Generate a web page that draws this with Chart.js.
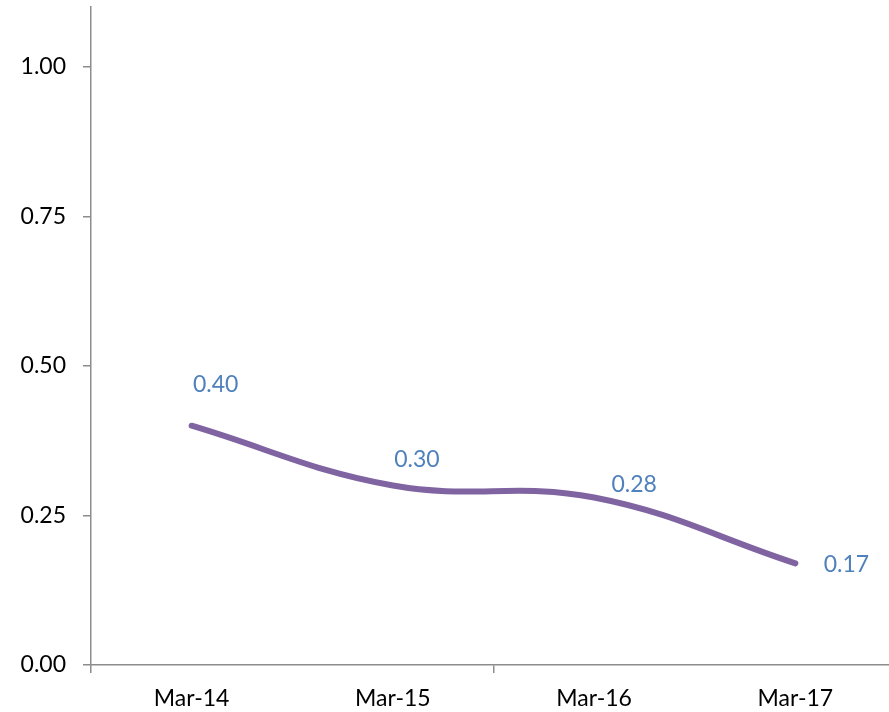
<!DOCTYPE html>
<html>
<head>
<meta charset="utf-8">
<script src="https://cdn.jsdelivr.net/npm/chart.js@4/dist/chart.umd.min.js"></script>
<style>
  html, body { margin: 0; padding: 0; background: #fff; overflow: hidden; }
  #wrap { width: 900px; height: 712px; }
</style>
</head>
<body>
<div id="wrap"><canvas id="c" width="900" height="712"></canvas></div>
<script>
// Fiscal year-end periods and the ratio recorded at each
const periods = ['Mar-14', 'Mar-15', 'Mar-16', 'Mar-17'];
const ratios = [0.40, 0.30, 0.28, 0.17];
const yTickValues = [0, 0.25, 0.5, 0.75, 1.0];

const AXIS_GREY = '#8c8c8c';
const FONT = 'Lato, "Open Sans", sans-serif';

// Draws each point's value beside it, shifted by a per-point offset
const valueLabels = {
  id: 'valueLabels',
  afterDatasetsDraw(chart, args, opts) {
    const ctx = chart.ctx;
    const meta = chart.getDatasetMeta(0);
    const data = chart.data.datasets[0].data;
    ctx.save();
    ctx.font = opts.font;
    ctx.fillStyle = opts.color;
    ctx.textAlign = 'center';
    ctx.textBaseline = 'middle';
    meta.data.forEach((pt, i) => {
      const off = opts.offsets[i] || [0, 0];
      ctx.fillText(data[i].toFixed(2), pt.x + off[0], pt.y + off[1]);
    });
    ctx.restore();
  }
};

new Chart(document.getElementById('c'), {
  type: 'line',
  data: {
    labels: periods,
    datasets: [{
      data: ratios,
      borderColor: '#8064A2',
      borderWidth: 6,
      borderCapStyle: 'round',
      borderJoinStyle: 'round',
      tension: 0.4,
      pointRadius: 0,
      fill: false
    }]
  },
  options: {
    responsive: false,
    animation: false,
    devicePixelRatio: 1,
    layout: { padding: { left: 0, right: 4, top: 7, bottom: 0 } },
    plugins: {
      legend: { display: false },
      tooltip: { enabled: false },
      valueLabels: {
        font: '23px ' + FONT,
        color: '#4F81BD',
        offsets: [[24, -41], [24, -26], [40, -13], [51, 1]]
      }
    },
    scales: {
      x: {
        type: 'category',
        offset: true,
        afterFit(scale) {
          scale.height = 47;
          scale.paddingLeft = 0;
          scale.paddingRight = 0;
        },
        grid: {
          offset: true,
          drawOnChartArea: false,
          tickLength: 8,
          lineWidth: 1.5,
          tickColor: (c) => (c.index !== undefined && c.index % 2 === 1) ? 'rgba(0,0,0,0)' : AXIS_GREY
        },
        border: { display: true, color: AXIS_GREY, width: 1.5 },
        ticks: {
          color: '#000',
          font: { family: FONT, size: 23 },
          padding: 12,
          maxRotation: 0,
          autoSkip: false
        }
      },
      y: {
        min: 0,
        max: 1.1,
        afterFit(scale) {
          scale.width = 91;
          scale.paddingTop = 0;
          scale.paddingBottom = 0;
        },
        afterBuildTicks(scale) {
          scale.ticks = yTickValues.map(v => ({ value: v }));
        },
        grid: {
          drawOnChartArea: false,
          tickLength: 8,
          lineWidth: 1.5,
          color: AXIS_GREY
        },
        border: { display: true, color: AXIS_GREY, width: 1.5 },
        ticks: {
          color: '#000',
          font: { family: FONT, size: 23 },
          padding: 17,
          callback: (v) => Number(v).toFixed(2)
        }
      }
    }
  },
  plugins: [valueLabels]
});
</script>
</body>
</html>
